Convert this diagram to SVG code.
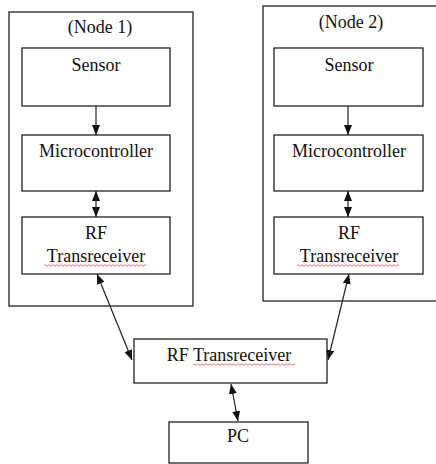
<svg xmlns="http://www.w3.org/2000/svg" width="436" height="464" viewBox="0 0 436 464">
<style>
.box{fill:#fff;stroke:#222;stroke-width:1.3}
.t{font-family:"Liberation Serif","Times New Roman",serif;font-size:18px;fill:#111;text-anchor:middle}
.c{stroke:#222;stroke-width:1.2;fill:none}
.sq{stroke:#e05050;stroke-width:0.8;fill:none}
</style>
<defs>
<marker id="ah" viewBox="0 0 10 8" refX="10" refY="4" markerWidth="10" markerHeight="8" markerUnits="userSpaceOnUse" orient="auto-start-reverse">
<path d="M0,0 L10,4 L0,8 Z" fill="#111"/>
</marker>
</defs>
<rect width="436" height="464" fill="#fff"/>
<g id="node1">
<rect class="box" x="9" y="12" width="184" height="294"/>
<text class="t" x="100" y="33">(Node 1)</text>
</g>
<g id="sensor1">
<rect class="box" x="22" y="48" width="148" height="58"/>
<text class="t" x="96" y="71">Sensor</text>
</g>
<g id="micro1">
<rect class="box" x="22" y="135" width="148" height="56"/>
<text class="t" x="96" y="157">Microcontroller</text>
</g>
<g id="rf1">
<rect class="box" x="22" y="217" width="148" height="57"/>
<text class="t" x="96" y="239">RF</text>
<text class="t" x="96" y="262">Transreceiver</text>
<path class="sq" d="M44,265.5 q1,-1.5 2,0 t2,0 t2,0 t2,0 t2,0 t2,0 t2,0 t2,0 t2,0 t2,0 t2,0 t2,0 t2,0 t2,0 t2,0 t2,0 t2,0 t2,0 t2,0 t2,0 t2,0 t2,0 t2,0 t2,0 t2,0 t2,0 t2,0 t2,0 t2,0 t2,0 t2,0 t2,0 t2,0 t2,0 t2,0 t2,0 t2,0 t2,0 t2,0 t2,0 t2,0 t2,0 t2,0 t2,0 t2,0 t2,0 t2,0 t2,0 t2,0 t2,0 t2,0"/>
</g>
<g id="node2">
<rect class="box" x="263" y="6" width="180" height="295"/>
<text class="t" x="351" y="28">(Node 2)</text>
</g>
<g id="sensor2">
<rect class="box" x="274" y="48" width="149" height="58"/>
<text class="t" x="349" y="71">Sensor</text>
</g>
<g id="micro2">
<rect class="box" x="274" y="135" width="149" height="56"/>
<text class="t" x="349" y="157">Microcontroller</text>
</g>
<g id="rf2">
<rect class="box" x="274" y="217" width="149" height="57"/>
<text class="t" x="349" y="239">RF</text>
<text class="t" x="349" y="262">Transreceiver</text>
<path class="sq" d="M297,265.5 q1,-1.5 2,0 t2,0 t2,0 t2,0 t2,0 t2,0 t2,0 t2,0 t2,0 t2,0 t2,0 t2,0 t2,0 t2,0 t2,0 t2,0 t2,0 t2,0 t2,0 t2,0 t2,0 t2,0 t2,0 t2,0 t2,0 t2,0 t2,0 t2,0 t2,0 t2,0 t2,0 t2,0 t2,0 t2,0 t2,0 t2,0 t2,0 t2,0 t2,0 t2,0 t2,0 t2,0 t2,0 t2,0 t2,0 t2,0 t2,0 t2,0 t2,0 t2,0 t2,0"/>
</g>
<g id="rfc">
<rect class="box" x="134" y="339" width="193" height="44"/>
<text class="t" x="229" y="361">RF Transreceiver</text>
<path class="sq" d="M193,364.5 q1,-1.5 2,0 t2,0 t2,0 t2,0 t2,0 t2,0 t2,0 t2,0 t2,0 t2,0 t2,0 t2,0 t2,0 t2,0 t2,0 t2,0 t2,0 t2,0 t2,0 t2,0 t2,0 t2,0 t2,0 t2,0 t2,0 t2,0 t2,0 t2,0 t2,0 t2,0 t2,0 t2,0 t2,0 t2,0 t2,0 t2,0 t2,0 t2,0 t2,0 t2,0 t2,0 t2,0 t2,0 t2,0 t2,0 t2,0 t2,0 t2,0 t2,0 t2,0 t2,0"/>
</g>
<g id="pc">
<rect class="box" x="169" y="422" width="139" height="41"/>
<text class="t" x="238" y="442">PC</text>
</g>
<g id="connectors">
<line class="c" x1="96" y1="106" x2="96" y2="135" marker-end="url(#ah)"/>
<line class="c" x1="96" y1="191" x2="96" y2="217" marker-start="url(#ah)" marker-end="url(#ah)"/>
<line class="c" x1="348" y1="106" x2="348" y2="135" marker-end="url(#ah)"/>
<line class="c" x1="348" y1="191" x2="348" y2="217" marker-start="url(#ah)" marker-end="url(#ah)"/>
<line class="c" x1="97" y1="274" x2="132" y2="360" marker-start="url(#ah)" marker-end="url(#ah)"/>
<line class="c" x1="349" y1="274" x2="328" y2="360" marker-start="url(#ah)" marker-end="url(#ah)"/>
<line class="c" x1="231" y1="384" x2="238" y2="421" marker-start="url(#ah)" marker-end="url(#ah)"/>
</g>
</svg>
